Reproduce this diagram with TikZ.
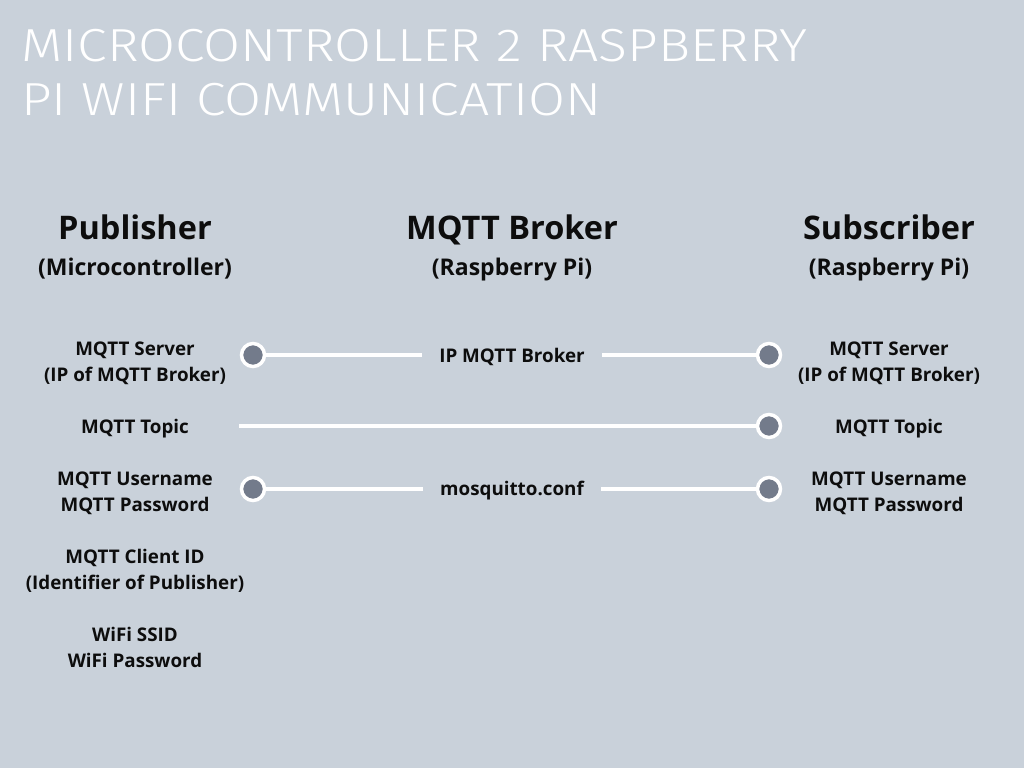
\documentclass[tikz,border=0pt]{standalone}
\usepackage{fontspec}
\setmainfont{Open Sans}
\newfontfamily\titlefont{Fira Sans Light}
\definecolor{bg}{HTML}{C9D1DA}
\definecolor{dot}{HTML}{737B8B}
\definecolor{ink}{HTML}{0D0D0D}
\begin{document}
\begin{tikzpicture}[x=1pt,y=-1pt,
  title/.style={anchor=base west,inner sep=0pt,text=white,xscale=1.19,yscale=1.03,font=\titlefont\fontsize{45}{45}\selectfont},
  head/.style={anchor=base,inner sep=0pt,text=ink,font=\bfseries\fontsize{32.5}{34}\selectfont},
  subhead/.style={anchor=base,inner sep=0pt,text=ink,font=\bfseries\fontsize{23}{24}\selectfont},
  lab/.style={anchor=base,inner sep=0pt,text=ink,font=\bfseries\fontsize{18.8}{26}\selectfont},
  midlab/.style={lab,inner xsep=17pt},
  dotnode/.style={circle,minimum size=23pt,inner sep=0pt,fill=dot,draw=white,line width=3.5pt},
  conn/.style={draw=white,line width=4pt}]
\fill[bg] (0,0) rectangle (1024,768);
\useasboundingbox (0,0) rectangle (1024,768);
% title
\node[title] (t1) at (21,62) {MICROCONTROLLER 2 RASPBERRY};
\node[title] (t2) at (21,115) {PI WIFI COMMUNICATION};
% headings
\node[head] (hp) at (135,239) {Publisher};
\node[head] (hb) at (512,239) {MQTT Broker};
\node[head] (hs) at (889,239) {Subscriber};
\node[subhead] (sp) at (135,275) {(Microcontroller)};
\node[subhead] (sb) at (512,275) {(Raspberry Pi)};
\node[subhead] (ss) at (889,275) {(Raspberry Pi)};
% left labels
\node[lab] (l1a) at (135,355) {MQTT Server};
\node[lab] (l1b) at (135,381) {(IP of MQTT Broker)};
\node[lab] (l2) at (135,433) {MQTT Topic};
\node[lab] (l3a) at (135,485) {MQTT Username};
\node[lab] (l3b) at (135,511) {MQTT Password};
\node[lab] (l4a) at (135,563) {MQTT Client ID};
\node[lab] (l4b) at (135,589) {(Identifier of Publisher)};
\node[lab] (l5a) at (135,641) {WiFi SSID};
\node[lab] (l5b) at (135,667) {WiFi Password};
% right labels
\node[lab] (r1a) at (889,355) {MQTT Server};
\node[lab] (r1b) at (889,381) {(IP of MQTT Broker)};
\node[lab] (r2) at (889,433) {MQTT Topic};
\node[lab] (r3a) at (889,485) {MQTT Username};
\node[lab] (r3b) at (889,511) {MQTT Password};
% middle labels
\node[midlab] (m1) at (512,362) {IP MQTT Broker};
\node[midlab] (m3) at (512,495) {mosquitto.conf};
% connectors
\coordinate (ts) at (239,426);
\coordinate (cl1) at (253,355);
\coordinate (cr1) at (769,355);
\coordinate (cr2) at (769,426);
\coordinate (cl3) at (253,489);
\coordinate (cr3) at (769,489);
\draw[conn] (cl1) -- (m1.west |- cl1);
\draw[conn] (m1.east |- cr1) -- (cr1);
\draw[conn] (ts) -- (cr2);
\draw[conn] (cl3) -- (m3.west |- cl3);
\draw[conn] (m3.east |- cr3) -- (cr3);
% dots
\node[dotnode] (dl1) at (cl1) {};
\node[dotnode] (dr1) at (cr1) {};
\node[dotnode] (dr2) at (cr2) {};
\node[dotnode] (dl3) at (cl3) {};
\node[dotnode] (dr3) at (cr3) {};
\end{tikzpicture}
\end{document}
